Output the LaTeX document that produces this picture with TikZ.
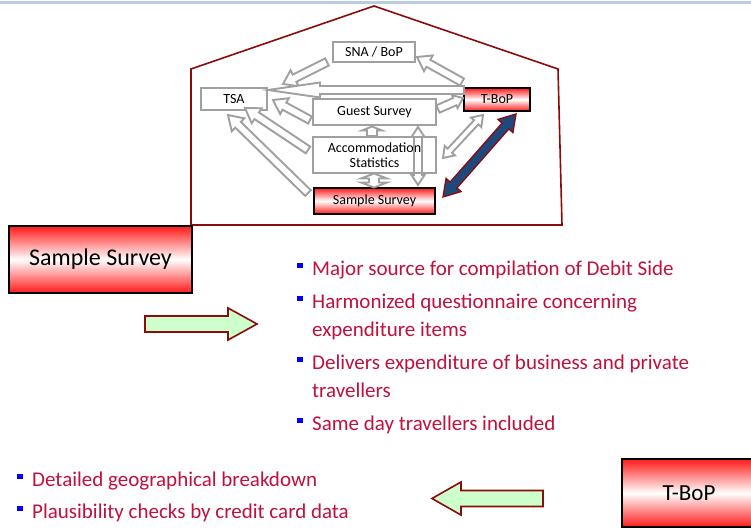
\documentclass[tikz,border=0pt]{standalone}
\usepackage{fontspec}
\setmainfont{Carlito}
\usetikzlibrary{calc}
\definecolor{topline}{RGB}{184,204,228}
\definecolor{house}{RGB}{139,10,10}
\definecolor{boxgray}{RGB}{160,160,160}
\definecolor{txtred}{RGB}{192,16,60}
\definecolor{bulletblue}{RGB}{0,0,255}
\definecolor{navy}{RGB}{31,73,125}
\definecolor{mint}{RGB}{204,255,204}
\newcommand\bul{\textcolor{bulletblue}{\rule[7pt]{5.5pt}{5.5pt}}\hspace{9.5pt}}
\newcommand\onearrow[6]{%
  \coordinate (tmpH) at ($(#3)!#6!(#2)$);
  \draw[#1] ($(#2)!#4!90:(#3)$) -- ($(tmpH)!#4!90:(#3)$) -- ($(tmpH)!#5!90:(#3)$) -- (#3)
    -- ($(tmpH)!#5!-90:(#3)$) -- ($(tmpH)!#4!-90:(#3)$) -- ($(#2)!#4!-90:(#3)$) -- cycle;}
\newcommand\twoarrow[6]{%
  \coordinate (tmpH) at ($(#3)!#6!(#2)$);
  \coordinate (tmpG) at ($(#2)!#6!(#3)$);
  \draw[#1] (#2) -- ($(tmpG)!#5!90:(#3)$) -- ($(tmpG)!#4!90:(#3)$) -- ($(tmpH)!#4!90:(#3)$)
    -- ($(tmpH)!#5!90:(#3)$) -- (#3) -- ($(tmpH)!#5!-90:(#3)$) -- ($(tmpH)!#4!-90:(#3)$)
    -- ($(tmpG)!#4!-90:(#3)$) -- ($(tmpG)!#5!-90:(#3)$) -- cycle;}
\tikzset{
  graybox/.style={draw=boxgray, line width=2pt, fill=white, inner sep=0pt,
    font=\fontsize{14}{15}\selectfont, align=center},
  smallred/.style={draw=black, line width=2.4pt, top color=red!90, bottom color=red!90,
    middle color=white, inner sep=0pt, font=\fontsize{14}{15}\selectfont},
  bigred/.style={draw=black, line width=2.6pt, top color=red!90, bottom color=red!90,
    middle color=white, inner sep=0pt},
  grayarrow/.style={draw=boxgray, line width=1.9pt, fill=white, line join=miter},
  grayline/.style={draw=boxgray, line width=1.9pt, line join=miter},
  bluearrow/.style={draw=house, line width=1.3pt, fill=navy, line join=miter},
  greenarrow/.style={draw=house, line width=1.6pt, fill=mint, line join=miter},
  bullettext/.style={anchor=base west, inner sep=0pt, text=txtred,
    font=\fontsize{21}{28}\selectfont},
}
\begin{document}
\begin{tikzpicture}[x=1pt,y=-1pt]
\useasboundingbox (0,0) rectangle (751,529);
\draw[topline, line width=3pt] (0,3) -- (751,3);
% house
\draw[house, line width=1.6pt, line join=miter] (191,225) -- (191,69) -- (374,6) -- (558,69) -- (562,225) -- cycle;
% nodes of the small diagram
\node[graybox, minimum width=82pt, minimum height=20pt] (sna) at (374,52) {SNA / BoP};
\node[graybox, minimum width=66pt, minimum height=22pt] (tsa) at (234,99) {TSA};
\node[smallred, minimum width=66pt, minimum height=23pt] (tbop) at (497,99.5) {T-BoP};
\node[graybox, minimum width=123pt, minimum height=26pt] (guest) at (374.5,112) {Guest Survey};
\node[graybox, minimum width=123pt, minimum height=36pt] (accom) at (374.5,155) {Accommodation\\Statistics};
\node[smallred, minimum width=121pt, minimum height=26pt] (ss) at (374.5,201) {Sample Survey};
% arrow end points
\coordinate (a1s) at (327,62);   \coordinate (a1e) at (283,84);
\coordinate (a2s) at (462,82);   \coordinate (a2e) at (417,57);
\coordinate (a3s) at (464,90);   \coordinate (a3e) at (268,90);
\coordinate (a4s) at (310,120);  \coordinate (a4e) at (273,100);
\coordinate (a5s) at (308,150);  \coordinate (a5e) at (245,108);
\coordinate (a6s) at (308,193);  \coordinate (a6e) at (228,115);
\coordinate (a7s) at (438,109);  \coordinate (a7e) at (463,98);
\coordinate (a8s) at (443,158);  \coordinate (a8e) at (483,115);
\coordinate (a9s) at (418,127);  \coordinate (a9e) at (418,185);
\coordinate (a10s) at (372,136); \coordinate (a10e) at (372,126.5);
\coordinate (a11s) at (374,173.5); \coordinate (a11e) at (374,187.5);
\coordinate (b1s) at (443,197);  \coordinate (b1e) at (516,114);
% gray block arrows
\onearrow{grayarrow}{a1s}{a1e}{4pt}{9pt}{13pt}
\onearrow{grayarrow}{a2s}{a2e}{4pt}{9pt}{13pt}
\onearrow{grayarrow}{a3s}{a3e}{4pt}{7.5pt}{52pt}
\onearrow{grayarrow}{a4s}{a4e}{4pt}{9pt}{13pt}
\onearrow{grayarrow}{a5s}{a5e}{4pt}{9pt}{14pt}
\onearrow{grayarrow}{a6s}{a6e}{4pt}{9pt}{14pt}
\onearrow{grayarrow}{a7s}{a7e}{4pt}{7pt}{9pt}
\twoarrow{grayarrow}{a8s}{a8e}{3pt}{7pt}{10pt}
\twoarrow{grayline}{a9s}{a9e}{4pt}{6.5pt}{10pt}
\onearrow{grayarrow}{a10s}{a10e}{5pt}{10pt}{4pt}
\twoarrow{grayarrow}{a11s}{a11e}{5pt}{13pt}{5pt}
\twoarrow{bluearrow}{b1s}{b1e}{4.5pt}{10pt}{16pt}
% big boxes
\node[bigred, minimum width=183pt, minimum height=67pt, font=\fontsize{24}{28}\selectfont] (bigss) at (100.5,259.5) {Sample Survey};
\node[bigred, minimum width=134pt, minimum height=68pt, font=\fontsize{23}{28}\selectfont] (bigtbop) at (689,493) {T-BoP};
% green arrows
\coordinate (g1s) at (145,324); \coordinate (g1e) at (257,324);
\coordinate (g2s) at (543,498.5); \coordinate (g2e) at (432,498.5);
\onearrow{greenarrow}{g1s}{g1e}{8pt}{16pt}{29pt}
\onearrow{greenarrow}{g2s}{g2e}{8pt}{16.5pt}{29pt}
% bullet texts
\node[bullettext] (t1) at (297,275) {\bul Major source for compilation of Debit Side};
\node[bullettext] (t2) at (297,308) {\bul Harmonized questionnaire concerning};
\node[bullettext] (t2b) at (312,336) {expenditure items};
\node[bullettext] (t3) at (297,369) {\bul Delivers expenditure of business and private};
\node[bullettext] (t3b) at (312,397) {travellers};
\node[bullettext] (t4) at (297,430) {\bul Same day travellers included};
\node[bullettext] (t5) at (17,486) {\bul Detailed geographical breakdown};
\node[bullettext] (t6) at (17,518) {\bul Plausibility checks by credit card data};
\end{tikzpicture}
\end{document}
